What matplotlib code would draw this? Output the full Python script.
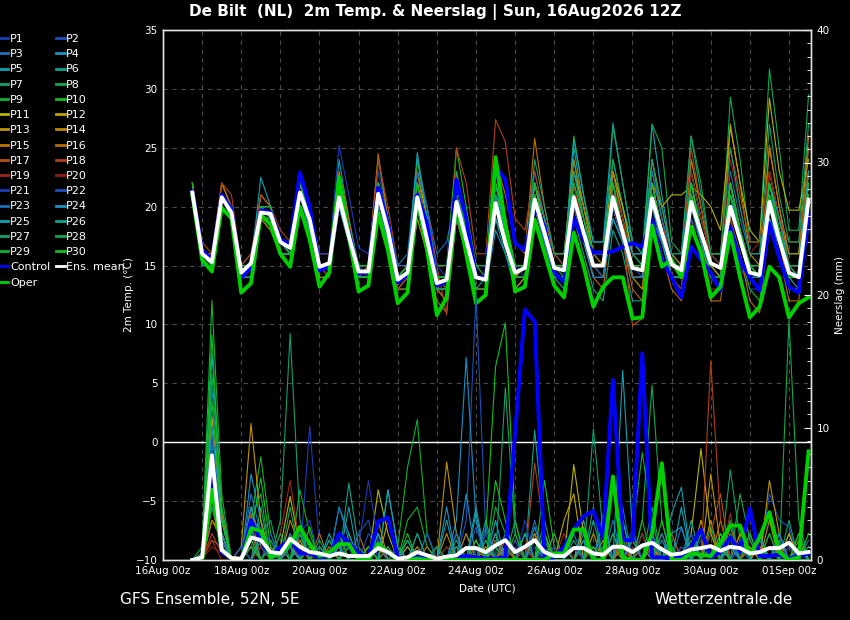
import matplotlib

matplotlib.use('agg')

from matplotlib import pyplot as plt
from matplotlib.lines import Line2D
import matplotlib.dates as mdates
import numpy as np
import pandas as pd

# 6-hourly steps, 16Aug 18z .. 01Sep 12z
times = pd.date_range('2026-08-16 18:00', periods=64, freq='6h')

mean_temp = [21.2, 16.0, 15.3, 20.8, 19.5, 14.4, 15.2, 19.5, 19.4, 17.0, 16.5, 21.2, 18.9, 14.9, 15.2, 20.8,
             17.5, 14.5, 14.5, 21.1, 18.0, 13.8, 14.4, 20.8, 17.2, 13.5, 13.8, 20.4, 17.2, 14.0, 13.8, 20.3,
             16.9, 14.4, 14.8, 20.6, 17.8, 14.8, 14.6, 20.8, 17.8, 15.0, 15.0, 20.8, 17.8, 14.8, 14.6, 20.7,
             17.8, 15.1, 14.6, 20.4, 17.8, 15.2, 14.8, 20.0, 17.2, 14.4, 14.2, 20.4, 17.2, 14.4, 14.0, 20.6]
control_temp = [21.3, 16.3, 15.5, 21.0, 19.8, 14.0, 14.8, 19.7, 19.5, 17.2, 16.8, 22.9, 20.0, 14.6, 14.9, 21.0,
                17.8, 14.3, 14.5, 21.6, 18.5, 13.6, 14.2, 21.0, 18.5, 13.3, 13.6, 22.3, 19.0, 14.0, 14.0, 23.4,
                22.3, 16.9, 16.3, 20.0, 18.3, 14.4, 13.6, 19.0, 17.2, 16.1, 16.1, 16.2, 16.6, 16.9, 16.6, 18.9,
                15.5, 14.0, 12.3, 16.6, 15.5, 14.4, 12.9, 18.3, 15.5, 14.0, 12.9, 18.6, 15.7, 13.2, 12.7, 19.5]
oper_temp = [21.0, 15.5, 14.5, 19.9, 19.0, 12.7, 13.5, 19.3, 18.5, 16.0, 14.9, 20.0, 17.2, 13.2, 14.4, 22.5,
             17.5, 12.8, 13.3, 19.4, 16.3, 11.8, 12.7, 20.6, 16.3, 10.8, 12.3, 20.3, 16.0, 11.8, 12.5, 24.2,
             18.5, 12.8, 13.2, 18.9, 16.1, 13.3, 12.3, 17.8, 15.0, 11.5, 13.2, 14.0, 14.0, 10.5, 10.6, 18.4,
             14.9, 15.5, 14.0, 18.3, 16.1, 12.3, 13.2, 17.8, 14.0, 10.6, 11.5, 14.9, 14.0, 10.6, 11.8, 12.3]

# perturbed members P1..P30, groups: 16Aug 18z | 17Aug .. 31Aug (00 06 12 18z) | 01Sep 00 06 12z
pert_temp_txt = [
    "21 | 16 15 21 20 | 14 15 20 19 | 17 16 22 19 | 15 15 22 18 | 14 15 23 19 | 14 15 22 18 | 14 14 21 17 | 14 14 22 18 | 15 15 21 18 | 15 15 22 18 | 16 16 20 17 | 14 14 19 17 | 15 14 18 16 | 14 13 17 15 | 13 13 19 16 | 13 13 18",
    "21 | 16 15 21 19 | 14 15 19 19 | 17 17 21 19 | 15 15 21 17 | 15 14 20 17 | 13 14 20 16 | 13 13 19 17 | 14 14 21 18 | 15 15 23 19 | 16 15 22 18 | 14 14 20 17 | 15 14 19 17 | 14 13 21 18 | 15 15 22 18 | 15 14 21 17 | 14 14 20",
    "22 | 16 16 21 20 | 15 16 20 20 | 17 17 22 20 | 16 16 21 18 | 15 15 22 19 | 15 16 24 20 | 16 17 21 17 | 15 15 19 17 | 14 14 19 17 | 15 15 21 19 | 16 16 23 19 | 16 16 22 18 | 15 14 21 19 | 16 16 23 19 | 16 16 22 18 | 15 14 21",
    "21 | 16 15 20 19 | 14 15 19 19 | 17 16 20 18 | 15 15 20 17 | 14 14 21 18 | 14 15 21 17 | 13 13 20 16 | 13 13 18 16 | 13 14 19 17 | 14 14 21 18 | 15 15 20 17 | 14 14 21 18 | 15 15 23 19 | 16 15 21 17 | 14 13 20 16 | 13 13 19",
    "21 | 16 15 21 20 | 15 15 20 20 | 17 17 22 19 | 15 15 24 19 | 15 15 24 19 | 14 15 22 18 | 14 14 20 17 | 14 14 20 17 | 14 14 20 17 | 15 15 25 20 | 17 17 24 20 | 17 16 27 21 | 16 15 22 18 | 14 14 21 17 | 15 15 20 17 | 14 14 21",
    "21 | 15 15 20 19 | 14 14 19 18 | 16 16 21 19 | 14 14 20 17 | 14 14 20 17 | 13 13 19 16 | 13 12 19 16 | 13 13 19 16 | 14 14 20 17 | 14 13 19 16 | 13 12 18 16 | 12 12 19 17 | 14 14 24 20 | 16 16 22 18 | 15 14 22 19 | 15 15 23",
    "21 | 16 15 21 19 | 14 15 19 19 | 16 16 21 18 | 15 15 21 17 | 14 14 21 18 | 14 14 22 18 | 14 14 22 18 | 14 14 21 18 | 15 15 22 19 | 16 16 24 19 | 16 15 23 19 | 16 15 24 19 | 15 14 21 18 | 15 14 22 18 | 15 15 23 19 | 16 16 23",
    "21 | 16 15 21 20 | 15 15 20 19 | 17 16 21 19 | 15 15 21 18 | 14 15 21 18 | 14 14 21 18 | 13 13 21 18 | 14 14 22 18 | 14 14 21 18 | 15 15 22 18 | 15 15 24 20 | 16 15 27 25 | 17 16 26 22 | 16 15 29.3 24 | 17 17 31.7 25 | 18 18 29.5",
    "21 | 15 15 20 19 | 14 14 19 18 | 16 16 20 18 | 15 14 21 17 | 14 14 20 17 | 13 14 20 17 | 13 13 20 17 | 13 13 20 17 | 14 14 20 17 | 14 14 20 17 | 15 14 19 17 | 14 13 20 17 | 14 14 20 17 | 14 13 18 16 | 13 12 18 16 | 13 13 20",
    "21 | 16 15 21 20 | 15 15 20 19 | 17 17 22 19 | 15 15 22 18 | 15 15 22 18 | 14 15 24 19 | 15 15 25 20 | 15 14 20 17 | 14 14 21 18 | 15 15 26 21 | 16 16 22 18 | 15 15 20 17 | 14 13 23 19 | 16 16 22 18 | 15 15 21 18 | 15 14 22",
    "22 | 16 15 21 20 | 15 15 20 19 | 17 17 21 19 | 15 15 22 18 | 15 15 22 18 | 15 15 23 19 | 14 14 19 17 | 13 13 21 19 | 14 15 22 19 | 15 15 23 20 | 16 16 23 20 | 16 16 22 20 | 21 21 21.7 21 | 20 18 26.8 22 | 18 17 29.2 23 | 19.7 19.7 24",
    "21 | 16 15 21 19 | 14 15 19 19 | 17 16 21 19 | 15 15 21 17 | 14 14 21 17 | 14 14 20 17 | 13 13 22 18 | 14 14 20 17 | 14 15 21 18 | 15 15 21 18 | 15 15 20 17 | 14 14 21 18 | 15 15 21 18 | 15 14 20 17 | 14 14 21 18 | 15 15 21",
    "22 | 16 15 22 20 | 14 15 21 20 | 17 16 22 19 | 15 15 22 18 | 14 14 22 18 | 13 14 21 17 | 13 12 21 17 | 13 13 20 17 | 13 14 20 17 | 14 14 21 18 | 15 14 22 18 | 14 14 22 18 | 15 15 22 18 | 14 14 27 22 | 16 15 25 20 | 16 16 26",
    "21 | 16 15 21 20 | 14 15 20 19 | 17 16 21 19 | 14 14 21 17 | 14 14 22 18 | 14 14 22 18 | 13 14 21 18 | 14 14 22 19 | 15 15 22 18 | 15 15 22 18 | 15 15 22 19 | 15 15 24 20 | 16 15 22 18 | 15 15 22 18 | 15 14 23 19 | 15 15 23",
    "21 | 16 16 22 20 | 15 15 21 20 | 17 17 23 19 | 15 15 23 19 | 14 15 24.5 19 | 14 15 23 18 | 14 13 23 19 | 15 15 24 21 | 17 16 25.8 20 | 16 16 24 20 | 16 15 23 19 | 14 13 22 18 | 14 14 24 20 | 15 15 22 18 | 14 14 25.2 20 | 15 15 25",
    "21 | 16 15 21 19 | 14 14 19 18 | 16 16 20 18 | 15 14 20 17 | 14 14 20 17 | 13 13 19 16 | 12 11 19 16 | 13 13 19 17 | 14 14 20 17 | 14 14 20 17 | 14 13 20 17 | 13 12 19 16 | 13 12 19 16 | 12 12 19 16 | 12 11 19 16 | 12 12 20",
    "21 | 16 15 21 20 | 14 15 20 20 | 17 17 22 19 | 15 15 22 18 | 15 15 22 18 | 14 14 22 18 | 13 12 21 17 | 13 13 20 17 | 14 14 22 19 | 15 15 22 18 | 15 15 21 18 | 9.9 10.5 20 18 | 14 14 21 17 | 14 14 22 18 | 14 13 20 17 | 13 13 20",
    "22 | 17 16 22 21 | 15 16 21 20 | 18 17 23 20 | 16 16 22 18 | 15 15 24 20 | 15 15 23 20 | 15 10.8 25 22 | 16 16 27.4 25.5 | 19 18 23 19 | 16 15 22 19 | 16 16 22 18 | 15 15 23 19 | 15 15 25 20 | 16 16 25 21 | 17 17 23 19 | 17 17 23",
    "21 | 16 15 21 19 | 14 15 19 19 | 17 16 21 18 | 15 14 21 17 | 14 14 20 17 | 13 14 20 17 | 13 13 20 17 | 13 13 20 17 | 14 14 20 17 | 14 14 21 18 | 14 14 20 17 | 14 14 20 17 | 14 13 20 17 | 13 13 21 18 | 14 14 21 17 | 14 13 20",
    "21 | 16 15 21 20 | 15 15 20 19 | 17 17 21 19 | 15 15 21 18 | 15 15 21 18 | 14 15 21 17 | 14 14 21 17 | 14 14 21 18 | 15 15 21 18 | 15 15 22 18 | 15 15 22 19 | 15 15 21 18 | 15 14 23 19 | 16 15 24 20 | 16 17 23 19 | 15 15 21",
    "21 | 16 15 21 20 | 15 15 20 20 | 17 17 22 20 | 16 16 25.2 21 | 16.5 16 22 19 | 15 15 22 18 | 15 14 21 17 | 14 14 20 17 | 15 14 19 17 | 14 14 20 17 | 15 14 20 17 | 15 15 20 17 | 14 14 19 17 | 14 13 20 17 | 14 14 21 18 | 15 15 21",
    "21 | 16 15 20 19 | 14 15 20 19 | 17 16 21 19 | 15 15 21 17 | 14 14 21 18 | 14 14 21 17 | 13 13 20 17 | 14 14 21 18 | 15 15 21 18 | 15 15 21 18 | 15 15 21 18 | 15 15 21 18 | 15 15 22 18 | 15 15 21 18 | 15 14 21 17 | 14 14 21",
    "21 | 16 15 21 20 | 15 15 20 19 | 17 16 21 19 | 15 15 21 18 | 15 15 22 19 | 15 15 23 20 | 14 14 21 18 | 14 14 21 18 | 15 15 21 18 | 15 15 23 19 | 16 16 22 18 | 16 16 23 19 | 16 16 22 18 | 15 15 21 18 | 15 15 22 18 | 15 15 22",
    "21 | 15 15 20 19 | 14 14 19 19 | 16 16 20 18 | 15 15 20 17 | 14 14 20 17 | 14 14 20 17 | 14 14 19 17 | 14 14 19 17 | 15 15 20 17 | 14 14 19 17 | 14 14 19 17 | 14 14 20 17 | 14 14 20 17 | 14 14 20 17 | 14 14 19 17 | 14 13 19",
    "21 | 16 15 21 20 | 15 15 22.5 20 | 17 17 22 19 | 15 15 22 18 | 14 14 22 18 | 14 15 24.6 19 | 14 14 22 18 | 15 15 22 18 | 15 15 22 19 | 15 15 25.7 21 | 17 17 27.1 22 | 17 16 22 18 | 14 14 22 18 | 15 15 22 18 | 15 15 22 19 | 15 15 23",
    "21 | 16 15 21 19 | 14 15 19 19 | 16 16 21 18 | 15 15 21 17 | 14 14 21 17 | 14 14 21 17 | 13 13 20 17 | 13 14 20 17 | 14 14 20 18 | 15 15 21 18 | 16 16 21 18 | 15 15 21 18 | 14 14 20 17 | 14 14 21 18 | 15 15 21 18 | 15 14 21",
    "21 | 16 15 21 20 | 15 15 20 19 | 17 17 21 19 | 15 15 22 18 | 15 15 22 18 | 14 14 22 18 | 14 14 23 19 | 15 15 23 19 | 15 15 24 20 | 16 16 23 19 | 15 15 26.8 22 | 17 16 24 20 | 16 16 26 21 | 16 16 25 20 | 16 16 27 21 | 17 17 27",
    "21 | 16 15 21 20 | 15 15 20 19 | 17 16 21 19 | 15 15 21 18 | 14 14 21 18 | 14 14 21 18 | 14 14 22 18 | 14 14 21 18 | 15 15 21 18 | 15 14 21 18 | 15 15 21 18 | 15 15 21 18 | 15 15 22 18 | 15 15 22 18 | 15 15 22 18 | 15 15 22",
    "21 | 16 15 21 19 | 14 15 19 19 | 16 16 21 19 | 15 15 21 18 | 14 14 21 18 | 14 14 20 17 | 13 13 20 17 | 13 13 20 17 | 14 14 21 18 | 14 14 21 18 | 15 15 21 18 | 15 15 21 18 | 15 15 21 18 | 14 14 21 18 | 15 14 21 18 | 14 14 21",
    "22 | 16 15 21 20 | 15 15 20 20 | 17 17 22 19 | 15 15 22 18 | 15 15 22 19 | 14 15 22 18 | 14 14 22 18 | 14 14 22 19 | 15 15 22 18 | 15 15 22 19 | 16 16 22 18 | 15 15 22 18 | 15 15 22 18 | 15 15 22 18 | 15 14 22 18 | 14 14 22",
]

mean_prec = [0, 0.2, 7.9, 0.75, 0.15, 0.1, 1.7, 1.5, 0.6, 0.5, 1.6, 1.0, 0.6, 0.5, 0.3, 0.5,
             0.3, 0.3, 0.3, 0.9, 0.6, 0.1, 0.2, 0.6, 0.35, 0.1, 0.25, 0.35, 0.9, 0.9, 0.6, 1.1,
             1.5, 0.6, 1.0, 1.5, 0.6, 0.3, 0.3, 0.9, 0.9, 0.5, 0.4, 1.0, 1.0, 0.6, 1.1, 1.3,
             0.8, 0.4, 0.5, 0.8, 0.9, 1.05, 0.7, 1.0, 0.9, 0.5, 0.6, 0.9, 0.9, 1.3, 0.5, 0.6]
control_prec = [0, 0.2, 6.0, 0.6, 0.1, 0, 3.0, 1.5, 0.3, 1.0, 1.5, 0.5, 0.5, 0.2, 0.3, 2.0,
                1.3, 0.5, 0.2, 2.9, 3.2, 0.2, 0.1, 0.2, 0.2, 0.1, 0.1, 0.2, 0.3, 0.2, 0.1, 0.1,
                0.2, 9.6, 18.9, 18.0, 0.2, 0.2, 1.0, 2.3, 3.3, 3.7, 1.7, 13.6, 1.5, 1.5, 15.6, 0.2,
                0.2, 0.1, 0.3, 1.0, 2.3, 0.2, 0.6, 1.7, 0.6, 3.9, 0.3, 0.3, 0.4, 0.1, 0.3, 0.5]
oper_prec = [0, 0, 5.3, 0.8, 0.1, 0, 2.4, 2.2, 0.2, 0.5, 1.2, 2.5, 1.2, 0.3, 0.6, 1.2,
             1.2, 0, 0, 1.2, 0.6, 0, 0, 0.1, 0, 0, 0, 0, 0, 0, 0, 0,
             0, 0, 0, 0, 0, 0.5, 0.5, 2.3, 2.3, 0, 0, 6.3, 0.2, 0, 0, 2.0,
             7.3, 0, 0, 0.5, 0.4, 0.3, 1.3, 2.6, 2.6, 0.4, 1.7, 3.6, 0.6, 0, 0.2, 8.2]

# member precipitation, only the non-zero steps {step: mm}
pert_prec = [
    {1: 0.5, 2: 11, 3: 2, 6: 3, 7: 1.5, 8: 0.5, 12: 10.1, 13: 1, 15: 1.5, 16: 0.8, 19: 1, 23: 0.5, 28: 1, 31: 2, 35: 1, 40: 1.5, 43: 2, 47: 1, 52: 1.5, 56: 0.8, 59: 2, 62: 0.5},
    {2: 9, 3: 1, 6: 2, 7: 2.5, 10: 1, 18: 2, 19: 1, 28: 3, 29: 20, 30: 2, 33: 1, 36: 0.5, 41: 1, 44: 2, 48: 1, 53: 1, 57: 1.5, 59: 5, 60: 3, 61: 2.5},
    {1: 0.3, 2: 13, 3: 3, 6: 5, 7: 2, 11: 1, 15: 2, 20: 1, 24: 0.5, 28: 2, 30: 1.5, 34: 2, 39: 1, 43: 3, 46: 2, 50: 2.5, 55: 1, 58: 1.5, 62: 1},
    {2: 6, 3: 1.5, 6: 6.5, 7: 3, 10: 1, 14: 1.5, 19: 2, 22: 1, 27: 3, 28: 15.3, 29: 3, 32: 2, 35: 2.5, 40: 2, 44: 3, 48: 1.5, 51: 2, 56: 1, 60: 1.5},
    {2: 15.6, 3: 4, 5: 1, 7: 2, 11: 2, 15: 4, 16: 2, 20: 5.3, 21: 1, 25: 1, 29: 4, 31: 3, 36: 1.5, 40: 3, 44: 14.3, 45: 2, 49: 3.5, 50: 5.5, 54: 2, 58: 1, 61: 2},
    {2: 9, 3: 2, 6: 2, 8: 1.5, 12: 1, 16: 5.8, 17: 1, 23: 1, 27: 2, 30: 3, 35: 9.8, 36: 2, 39: 1.5, 42: 3, 46: 2, 49: 1, 52: 2, 55: 1.5, 59: 1, 63: 1},
    {2: 8, 3: 2, 7: 4, 9: 3, 10: 17.1, 11: 3, 14: 1, 19: 1.5, 24: 2, 28: 1, 33: 3, 37: 1, 41: 9.9, 42: 2, 47: 2, 51: 1, 55: 6.8, 56: 1.5, 62: 1},
    {2: 7, 3: 1, 6: 1, 7: 3, 11: 2, 13: 1, 18: 1, 22: 1.5, 26: 1, 31: 4, 32: 2, 36: 3, 38: 1, 43: 2, 46: 3, 47: 13.2, 48: 3, 53: 1, 57: 2, 61: 18.1, 62: 3},
    {1: 1, 2: 19.6, 3: 5, 6: 3, 7: 7.8, 8: 2, 11: 5.3, 12: 2, 16: 1, 19: 2, 21: 1, 22: 7, 23: 10.6, 24: 2, 30: 1, 34: 2, 38: 1, 45: 2, 46: 8.1, 47: 3, 52: 1, 56: 2, 60: 1},
    {2: 17, 3: 3, 6: 2, 7: 6.2, 8: 1, 12: 2.5, 15: 2, 20: 1, 25: 1, 30: 2, 31: 14.6, 32: 17.9, 33: 3, 36: 6, 37: 1, 41: 2, 44: 1.5, 49: 1, 54: 2, 58: 2, 62: 2},
    {2: 3, 3: 2, 6: 1, 9: 1, 10: 4.8, 11: 1, 19: 5.3, 20: 2, 27: 1, 31: 1, 35: 2, 39: 7.2, 40: 2, 44: 1, 51: 2, 52: 8.4, 53: 2, 58: 1},
    {2: 4, 3: 1, 7: 1, 11: 1.5, 15: 1, 20: 3, 24: 1, 29: 1.5, 34: 1, 38: 3, 39: 5, 43: 1, 48: 2, 52: 3, 57: 1, 61: 2},
    {1: 0.5, 2: 10.8, 3: 3.5, 5: 1, 6: 10.3, 7: 3, 10: 2, 14: 1, 18: 1, 22: 1, 26: 7.4, 27: 2, 32: 1, 36: 2, 42: 1.5, 47: 1, 53: 6.5, 54: 1, 59: 6, 60: 2},
    {2: 5, 3: 2, 6: 4, 7: 1, 10: 3, 11: 1, 15: 1, 19: 3, 26: 2, 31: 2, 34: 1, 40: 2.5, 45: 1.5, 50: 1, 53: 3, 56: 2, 59: 3},
    {2: 7, 3: 3, 6: 2.5, 9: 1, 12: 1, 17: 2, 23: 1, 28: 2, 30: 1, 35: 2, 41: 2, 44: 1, 48: 1, 54: 3, 57: 1, 62: 1.5},
    {2: 3, 3: 1.5, 6: 1, 8: 1, 13: 2, 19: 1, 25: 1, 31: 1.5, 37: 2, 43: 1, 49: 2, 55: 2.5, 58: 1},
    {2: 1.5, 3: 1, 6: 3.5, 10: 1, 14: 1, 19: 1, 27: 1, 32: 1.5, 39: 1, 44: 2, 46: 1, 53: 2, 54: 5, 60: 1},
    {2: 2, 3: 0.5, 7: 2, 10: 1.5, 16: 1, 24: 1, 29: 1, 35: 7.3, 36: 2, 41: 1, 47: 1.5, 53: 15, 54: 3, 57: 3.5},
    {1: 0.5, 2: 1.5, 6: 2, 9: 2, 10: 6, 11: 1, 21: 0.5, 28: 1, 34: 1, 38: 2, 45: 1, 50: 1, 55: 3.5, 61: 1},
    {2: 1, 3: 0.5, 7: 1, 13: 0.5, 20: 1, 26: 1, 33: 1.5, 40: 1, 46: 2, 52: 1, 57: 1.5, 60: 2},
    {2: 9.5, 3: 2, 6: 2, 7: 1, 11: 2, 12: 3, 17: 1, 18: 6, 19: 1.5, 25: 1, 30: 2, 34: 3, 39: 1, 45: 2.5, 50: 1, 56: 1.5, 60: 2},
    {2: 6, 3: 1, 5: 1, 8: 2, 12: 1.5, 17: 2, 18: 3, 24: 2, 29: 2.5, 33: 1.5, 37: 1, 42: 2, 47: 2, 51: 2, 56: 1, 61: 1},
    {2: 4, 3: 1.5, 6: 3, 7: 2, 10: 2, 15: 4, 16: 1.5, 21: 1, 27: 2, 30: 2.5, 35: 3, 39: 2, 44: 4, 48: 2, 52: 1, 57: 2, 63: 1.5},
    {2: 10, 3: 3, 6: 4, 7: 1.5, 11: 2.5, 15: 1, 19: 2, 23: 2, 26: 4, 28: 5, 31: 2, 36: 1, 42: 3.5, 45: 1.5, 49: 2, 50: 2.5, 55: 1, 60: 2},
    {2: 8, 3: 2, 6: 2.5, 10: 1, 14: 2, 16: 4, 20: 5.3, 21: 1, 26: 3, 29: 3.5, 34: 2, 40: 1.5, 44: 3, 47: 2, 50: 4, 54: 1.5, 58: 2, 62: 1},
    {2: 5, 3: 1, 7: 1.5, 9: 1, 13: 1, 16: 2, 22: 1.5, 27: 1.5, 31: 1, 35: 1.5, 41: 3, 46: 1, 51: 3, 55: 2, 59: 1},
    {2: 6, 3: 3, 7: 2, 8: 3, 10: 4, 14: 1.5, 18: 1, 23: 2, 27: 1, 32: 13, 33: 2, 38: 1, 41: 4, 47: 4, 52: 2, 55: 3, 61: 3},
    {2: 5, 3: 1, 6: 1, 9: 2, 13: 1.5, 20: 1, 25: 1, 30: 1.5, 36: 2, 40: 1, 43: 2, 49: 1, 53: 2.5, 56: 5, 57: 1.5},
    {1: 0.5, 2: 14, 3: 4, 6: 3, 7: 5, 11: 2, 16: 1, 22: 3, 23: 4, 24: 1, 29: 1.5, 33: 2, 37: 2, 42: 1, 46: 3, 51: 1.5, 57: 2, 62: 2},
    {2: 12, 3: 3, 6: 1.5, 8: 1, 12: 1, 18: 1, 22: 2, 28: 1, 31: 6, 32: 3, 36: 2, 41: 1, 48: 3, 54: 1, 59: 2, 63: 2},
]

base_colors = ["#1a3cb4", "#1a50b8", "#1a70bc", "#1a90c4", "#12a0b0", "#10a08c", "#10a06c", "#10a850",
               "#10b034", "#10c020", "#b8b400", "#c0a400", "#c09400", "#c08800", "#c07400", "#b86a10",
               "#b85010", "#b04018", "#a02818", "#901c14"]
pert_colors = base_colors + base_colors[:10]
pert_names = ["P%d" % (i + 1) for i in range(30)]

control_color = "#0000ff"
oper_color = "#00d000"

fig = plt.figure(figsize=(8.5, 6.2), dpi=100, facecolor='black')
ax = fig.add_axes([163 / 850, 60 / 620, 648 / 850, 530 / 620])
ax.set_facecolor('black')
ax2 = ax.twinx()

for txt, col in zip(pert_temp_txt, pert_colors):
    vals = np.array(txt.replace('|', ' ').split(), dtype=float)
    assert len(vals) == 64, len(vals)
    ax.plot(times, vals, color=col, lw=0.8, zorder=2)

ax.plot(times, control_temp, color=control_color, lw=2.8, zorder=3)
ax.plot(times, oper_temp, color=oper_color, lw=2.8, zorder=4)
ax.plot(times, mean_temp, color='white', lw=2.8, zorder=5)
ax.axhline(0, color='white', lw=1, zorder=1.5)

for d, col in zip(pert_prec, pert_colors):
    vals = np.zeros(64)
    for k, v in d.items():
        vals[k] = v
    ax2.plot(times, vals, color=col, lw=0.8, zorder=2)

ax2.plot(times, control_prec, color=control_color, lw=2.8, zorder=3)
ax2.plot(times, oper_prec, color=oper_color, lw=2.8, zorder=4)
ax2.plot(times, mean_prec, color='white', lw=2.8, zorder=5)

ax.set_ylim(-10, 35)
ax2.set_ylim(0, 40)
ax.set_xlim(pd.Timestamp('2026-08-16 00:00'), pd.Timestamp('2026-09-01 13:30'))

ax.set_yticks(np.arange(-10, 36, 5))
ax2.set_yticks(np.arange(0, 41, 10))
ax2.set_yticks(np.arange(0, 41, 1), minor=True)
ax.set_xticks(pd.date_range('2026-08-16', '2026-09-01', freq='2D'))
ax.set_xticks(pd.date_range('2026-08-16', '2026-09-01', freq='D'), minor=True)
ax.xaxis.set_major_formatter(mdates.DateFormatter('%d%b %Hz'))

ax.grid(True, which='both', axis='x', color='#4a4a4a', ls=(0, (4, 4)), lw=0.8)
ax.grid(True, which='major', axis='y', color='#4a4a4a', ls=(0, (4, 4)), lw=0.8)
ax.set_axisbelow(True)

ax.tick_params(axis='both', which='both', length=0, colors='white', labelsize=7.5, pad=4)
ax2.tick_params(axis='y', which='major', direction='in', length=5, colors='white', labelsize=7.5, pad=4)
ax2.tick_params(axis='y', which='minor', direction='in', length=3, colors='white')

for a in (ax, ax2):
    for s in a.spines.values():
        s.set_color('#e0e0e0')
        s.set_linewidth(1)

ax.set_ylabel('2m Temp. (°C)', color='white', fontsize=7.5, labelpad=1)
ax2.set_ylabel('Neerslag (mm)', color='white', fontsize=7.5, labelpad=4)
ax.set_xlabel('Date (UTC)', color='white', fontsize=7.5, labelpad=6)

# legend, filled column by column
col1 = [(pert_names[i], pert_colors[i]) for i in range(0, 30, 2)] + [('Control', control_color), ('Oper', oper_color)]
col2 = [(pert_names[i], pert_colors[i]) for i in range(1, 30, 2)] + [('Ens. mean', 'white')]
entries = col1 + col2
handles = [Line2D([], [], color=c, lw=2) for _, c in entries]
labels = [n for n, _ in entries]
fig.legend(handles, labels, loc='upper left', bbox_to_anchor=(0, 1 - 34 / 620), ncol=2, frameon=False,
           fontsize=8, handlelength=0.75, handletextpad=0.15, columnspacing=0.55, labelspacing=0.47,
           borderpad=0, borderaxespad=0, labelcolor='white')

fig.text(435 / 850, 1 - 12 / 620, 'De Bilt  (NL)  2m Temp. & Neerslag | Sun, 16Aug2026 12Z',
         ha='center', va='center', fontsize=11, fontweight='bold', color='white')
fig.text(120 / 850, 1 - 599 / 620, 'GFS Ensemble, 52N, 5E', ha='left', va='center', fontsize=11, color='white')
fig.text(793 / 850, 1 - 599 / 620, 'Wetterzentrale.de', ha='right', va='center', fontsize=11, color='white')

fig.savefig('out.png', dpi=100, facecolor='black')
